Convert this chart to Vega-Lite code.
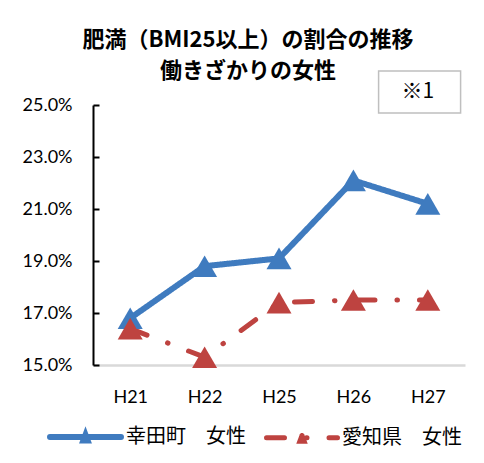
{
  "$schema": "https://vega.github.io/schema/vega-lite/v6.json",
  "width": 372,
  "height": 260,
  "autosize": {"type": "none"},
  "padding": {"left": 93, "top": 105, "right": 19, "bottom": 98},
  "background": "#ffffff",
  "config": {"view": {"stroke": null}},
  "title": {
    "text": ["肥満（BMI25以上）の割合の推移", "働きざかりの女性"],
    "font": "Noto Sans CJK JP",
    "fontSize": 22,
    "fontWeight": "bold",
    "color": "#000000",
    "lineHeight": 31,
    "anchor": "middle",
    "frame": "group",
    "dx": -31,
    "offset": -15
  },
  "datasets": {
    "rates": [
      {"year": "H21", "series": "幸田町　女性", "value": 0.168},
      {"year": "H22", "series": "幸田町　女性", "value": 0.188},
      {"year": "H25", "series": "幸田町　女性", "value": 0.191},
      {"year": "H26", "series": "幸田町　女性", "value": 0.221},
      {"year": "H27", "series": "幸田町　女性", "value": 0.212},
      {"year": "H21", "series": "愛知県　女性", "value": 0.164},
      {"year": "H22", "series": "愛知県　女性", "value": 0.153},
      {"year": "H25", "series": "愛知県　女性", "value": 0.174},
      {"year": "H26", "series": "愛知県　女性", "value": 0.175},
      {"year": "H27", "series": "愛知県　女性", "value": 0.175}
    ],
    "note": [
      {"year": "H27", "value": 0.255, "note": "※1"}
    ]
  },
  "layer": [
    {
      "data": {"name": "rates"},
      "mark": {"type": "line", "strokeCap": "round", "strokeJoin": "round"},
      "encoding": {
        "x": {
          "field": "year",
          "type": "nominal",
          "sort": ["H21", "H22", "H25", "H26", "H27"],
          "scale": {"type": "point", "padding": 0.5},
          "axis": {
            "title": null,
            "labelAngle": 0,
            "ticks": false,
            "domainColor": "#d9d9d9",
            "domainWidth": 2.5,
            "labelFont": "Lato",
            "labelFontSize": 18,
            "labelColor": "#000000",
            "labelPadding": 23,
            "grid": false
          }
        },
        "y": {
          "field": "value",
          "type": "quantitative",
          "scale": {"domain": [0.15, 0.25], "nice": false, "zero": false},
          "axis": {
            "title": null,
            "values": [0.15, 0.17, 0.19, 0.21, 0.23, 0.25],
            "format": ".1%",
            "grid": false,
            "domainColor": "#000000",
            "domainWidth": 2,
            "tickColor": "#000000",
            "tickWidth": 2,
            "tickSize": -6,
            "labelFont": "Lato",
            "labelFontSize": 18,
            "labelColor": "#000000",
            "labelPadding": 27
          }
        },
        "color": {
          "field": "series",
          "type": "nominal",
          "scale": {"domain": ["幸田町　女性", "愛知県　女性"], "range": ["#3f7bbf", "#be4340"]},
          "legend": {
            "orient": "none",
            "legendX": -46,
            "legendY": 293,
            "direction": "horizontal",
            "title": null,
            "symbolType": "M-1,0H1M0,-0.06L0.06,0.1L-0.06,0.1Z",
            "symbolSize": 5041,
            "symbolStrokeWidth": 5,
            "labelFont": "Noto Sans CJK JP",
            "labelFontSize": 20,
            "labelColor": "#000000",
            "labelOffset": 2,
            "columnPadding": 10,
            "encode": {
              "symbols": {
                "update": {
                  "fill": {"scale": "color", "field": "value"},
                  "stroke": {"scale": "color", "field": "value"},
                  "strokeWidth": {"value": 5},
                  "strokeCap": {"value": "round"},
                  "strokeDash": {"signal": "datum.value === '愛知県　女性' ? [18, 22, 0.5, 22] : [1, 0]"},
                  "opacity": {"value": 1}
                }
              }
            }
          }
        },
        "strokeDash": {
          "field": "series",
          "type": "nominal",
          "scale": {"domain": ["幸田町　女性", "愛知県　女性"], "range": [[1, 0], [18, 22, 0.5, 22]]},
          "legend": null
        },
        "strokeWidth": {
          "field": "series",
          "type": "nominal",
          "scale": {"domain": ["幸田町　女性", "愛知県　女性"], "range": [6, 5]},
          "legend": null
        }
      }
    },
    {
      "data": {"name": "rates"},
      "mark": {"type": "point", "shape": "M0,-0.866L1,0.866L-1,0.866Z", "size": 625, "filled": true, "opacity": 1},
      "encoding": {
        "x": {"field": "year", "type": "nominal", "sort": ["H21", "H22", "H25", "H26", "H27"]},
        "y": {"field": "value", "type": "quantitative"},
        "color": {"field": "series", "type": "nominal"}
      }
    },
    {
      "data": {"name": "note"},
      "mark": {"type": "point", "shape": "M-1.2,-0.512H0.8V0.512H-1.2Z", "size": 6724, "filled": true, "fill": "#ffffff", "stroke": "#bfbfbf", "strokeWidth": 1.5, "opacity": 1},
      "encoding": {
        "x": {"field": "year", "type": "nominal", "sort": ["H21", "H22", "H25", "H26", "H27"]},
        "y": {"field": "value", "type": "quantitative"}
      }
    },
    {
      "data": {"name": "note"},
      "mark": {"type": "text", "font": "Noto Sans CJK JP", "fontSize": 21, "color": "#000000", "dx": -10, "baseline": "middle", "align": "center"},
      "encoding": {
        "x": {"field": "year", "type": "nominal", "sort": ["H21", "H22", "H25", "H26", "H27"]},
        "y": {"field": "value", "type": "quantitative"},
        "text": {"field": "note"}
      }
    }
  ]
}
